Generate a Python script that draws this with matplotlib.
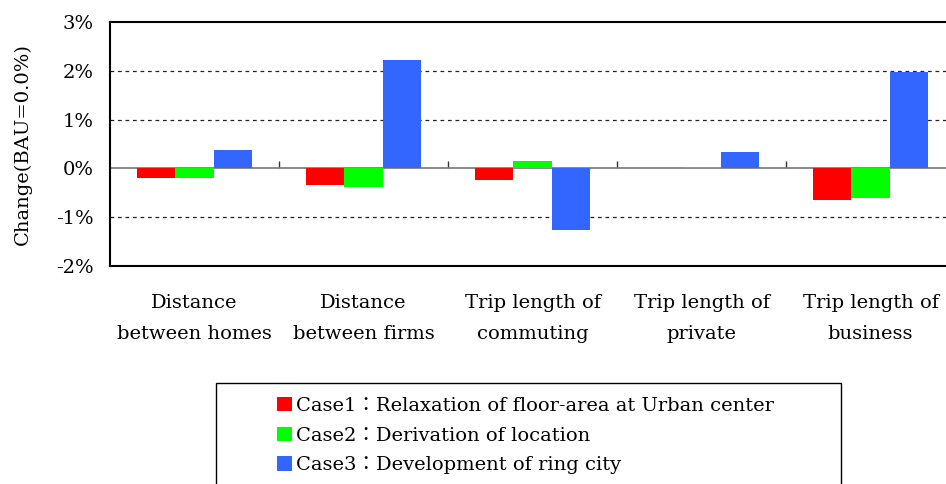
import numpy as np
import matplotlib.pyplot as plt
from matplotlib.patches import Rectangle
from matplotlib.ticker import FuncFormatter

# Данные
categories = ['Distance\nbetween homes', 'Distance\nbetween firms', 'Trip length of\ncommuting',
              'Trip length of\nprivate', 'Trip length of\nbusiness']
case1 = [-0.19, -0.34, -0.23, 0.00, -0.64]
case2 = [-0.19, -0.38, 0.15, 0.03, -0.60]
case3 = [0.38, 2.22, -1.26, 0.34, 1.98]
labels = ['Case1：Relaxation of floor-area at Urban center',
          'Case2：Derivation of location',
          'Case3：Development of ring city']
colors = ['#FF0000', '#00FF00', '#3366FF']

plt.rcParams['font.family'] = ['DejaVu Serif', 'Noto Sans CJK JP']

fig = plt.figure(figsize=(9.46, 4.84), dpi=100)
ax = fig.add_axes([110 / 946, 1 - 266 / 484, 845 / 946, 244 / 484])

x = np.arange(len(categories))
w = 0.225
for i, (vals, lab, c) in enumerate(zip([case1, case2, case3], labels, colors)):
    ax.bar(x + (i - 1) * w, vals, width=w, color=c, label=lab, zorder=3)

ax.set_xlim(-0.5, len(categories) - 0.5)
ax.set_ylim(-2, 3)
ax.set_yticks([-2, -1, 0, 1, 2, 3])
ax.yaxis.set_major_formatter(FuncFormatter(lambda v, p: f'{v:.0f}%'))
ax.tick_params(axis='y', length=0, pad=12, labelsize=14)
ax.set_ylabel('Change(BAU=0.0%)', fontsize=14, labelpad=17)

ax.set_xticks(x)
ax.set_xticklabels(categories, fontsize=14, linespacing=1.95)
ax.tick_params(axis='x', length=0, pad=20)

# пунктирная сетка
for v in [-1, 1, 2]:
    ax.axhline(v, color='#222222', linewidth=0.9, linestyle=(0, (3, 3)), zorder=1)

for s in ['left', 'top', 'bottom']:
    ax.spines[s].set_linewidth(1.5)
ax.spines['right'].set_visible(False)

# ось категорий на нуле
sec = ax.secondary_xaxis(0, transform=ax.transData)
sec.set_xticks(x[:-1] + 0.5)
sec.set_xticklabels([])
sec.tick_params(direction='in', length=5, color='#333333', width=1)
sec.spines['bottom'].set_color('#808080')
sec.spines['bottom'].set_linewidth(1.3)

# легенда
fig.patches.append(Rectangle((216 / 946, -0.05), 625 / 946, 0.05 + 1 - 383 / 484,
                             transform=fig.transFigure, fill=False,
                             edgecolor='black', linewidth=1.0))
h, l = ax.get_legend_handles_labels()
fig.legend(h, l, loc='upper left', bbox_to_anchor=(277 / 946, 1 - 397 / 484),
           frameon=False, fontsize=14, handlelength=0.75, handleheight=0.75,
           handletextpad=0.25, labelspacing=0.6, borderaxespad=0, borderpad=0)

fig.savefig('out.png', dpi=100)
